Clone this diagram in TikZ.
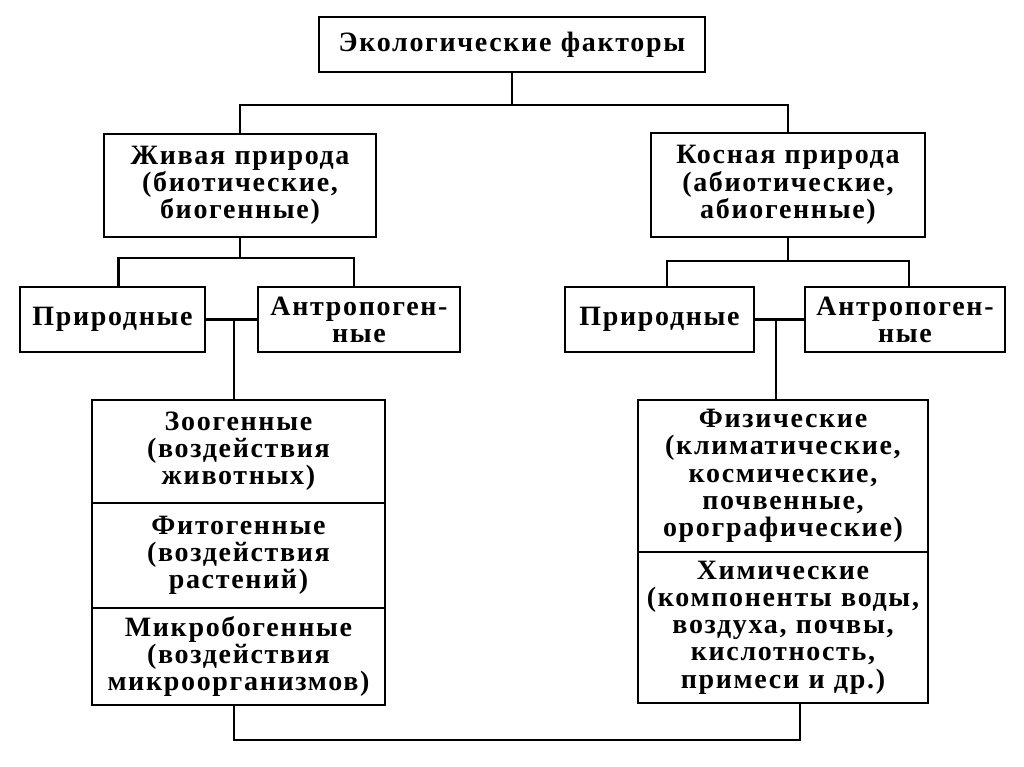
\documentclass[tikz,border=0pt]{standalone}
\usepackage{fontspec}
\newfontfamily\dfont{Liberation Serif}[LetterSpace=6]
\tikzset{
  box/.style={draw, line width=2.2pt, align=center, inner xsep=0pt, inner ysep=0pt,
    font=\dfont\bfseries\fontsize{21pt}{20.4pt}\selectfont},
  ln/.style={line width=2.2pt, line join=miter},
}
\begin{document}
\begin{tikzpicture}[x=0.75pt,y=-0.75pt]
\useasboundingbox[fill=white] (0,0) rectangle (1024,767);
% level 0
\node[box, text width=289.5pt, minimum height=41.25pt] (top) at (512,44.5) {Экологические факторы};
% level 1
\node[box, text width=204pt, minimum height=77.25pt] (zhiv) at (240,185.5) {Живая природа\\(биотические,\\биогенные)};
\node[box, text width=205.5pt, minimum height=78pt] (kosn) at (788,185) {Косная природа\\(абиотические,\\абиогенные)};
% level 2
\node[box, text width=138.75pt, minimum height=48.75pt] (lp) at (112.5,319.5) {Природные};
\node[box, text width=151.5pt, minimum height=48.75pt] (la) at (359,319.5) {Антропоген-\\ные};
\node[box, text width=141.75pt, minimum height=48.75pt] (rp) at (659.5,319.5) {Природные};
\node[box, text width=150pt, minimum height=48.75pt] (ra) at (905,319.5) {Антропоген-\\ные};
% left stack
\node[box, text width=219.75pt, minimum height=77.25pt] (ls1) at (238.5,451.5) {Зоогенные\\(воздействия\\животных)};
\node[box, text width=219.75pt, minimum height=78.75pt] (ls2) at (238.5,555.5) {Фитогенные\\(воздействия\\растений)};
\node[box, text width=219.75pt, minimum height=72.75pt] (ls3) at (238.5,656.5) {Микробогенные\\(воздействия\\микроорганизмов)};
% right stack
\node[box, text width=217.5pt, minimum height=114pt] (rs1) at (783,476) {Физические\\(климатические,\\космические,\\почвенные,\\орографические)};
\node[box, text width=217.5pt, minimum height=113.25pt] (rs2) at (783,627.5) {Химические\\(компоненты воды,\\воздуха, почвы,\\кислотность,\\примеси и др.)};
% junction levels
\coordinate (j1) at (509,105);
\coordinate (j2) at (0,258);
\coordinate (j3) at (0,261);
\coordinate (j4) at (0,740);
% connectors
\draw[ln] (top.south) -- (top.south |- j1);
\draw[ln] (zhiv.north) -- (zhiv.north |- j1) -- (kosn.north |- j1) -- (kosn.north);
\draw[ln] (zhiv.south) -- (zhiv.south |- j2);
\draw[ln] ([xshift=4.5pt]lp.north) -- ([xshift=4.5pt]lp.north |- j2) -- ([xshift=-3.75pt]la.north |- j2) -- ([xshift=-3.75pt]la.north);
\draw[ln] (kosn.south) -- (kosn.south |- j3);
\draw[ln] ([xshift=5.6pt]rp.north) -- ([xshift=5.6pt]rp.north |- j3) -- ([xshift=3pt]ra.north |- j3) -- ([xshift=3pt]ra.north);
\draw[ln] (lp.east) -- (la.west);
\draw[ln] ([xshift=-3.4pt]ls1.north) -- ([xshift=-3.4pt]ls1.north |- lp.east);
\draw[ln] (rp.east) -- (ra.west);
\draw[ln] ([xshift=-5.25pt]rs1.north) -- ([xshift=-5.25pt]rs1.north |- rp.east);
\draw[ln] ([xshift=-3.4pt]ls3.south) -- ([xshift=-3.4pt]ls3.south |- j4) -- ([xshift=12.75pt]rs2.south |- j4) -- ([xshift=12.75pt]rs2.south);
\end{tikzpicture}
\end{document}
